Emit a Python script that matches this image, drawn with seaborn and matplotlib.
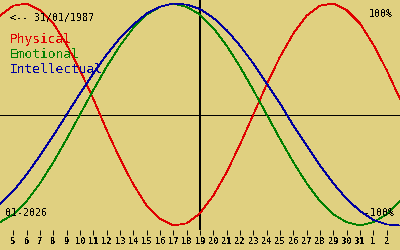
import matplotlib
matplotlib.use("Agg")
import matplotlib.pyplot as plt
import pandas as pd
import seaborn as sns

# ---- data ----
day_labels = ["4", "5", "6", "7", "8", "9", "10", "11", "12", "13", "14", "15", "16", "17",
              "18", "19", "20", "21", "22", "23", "24", "25", "26", "27", "28", "29", "30",
              "31", "1", "2", "3", "4"]
physical = [0.89, 0.98, 1.00, 0.94, 0.82, 0.63, 0.40, 0.14, -0.14, -0.40, -0.63, -0.82,
            -0.94, -1.00, -0.98, -0.89, -0.73, -0.52, -0.27, 0.00, 0.27, 0.52, 0.73, 0.89,
            0.98, 1.00, 0.94, 0.82, 0.63, 0.40, 0.14, -0.14]
emotional = [-0.97, -0.90, -0.78, -0.62, -0.43, -0.22, 0.00, 0.22, 0.43, 0.62, 0.78, 0.90,
             0.97, 1.00, 0.97, 0.90, 0.78, 0.62, 0.43, 0.22, 0.00, -0.22, -0.43, -0.62,
             -0.78, -0.90, -0.97, -1.00, -0.97, -0.90, -0.78, -0.62]
intellectual = [-0.81, -0.69, -0.54, -0.37, -0.19, 0.00, 0.19, 0.37, 0.54, 0.69, 0.81, 0.91,
                0.97, 1.00, 0.99, 0.95, 0.87, 0.76, 0.62, 0.46, 0.28, 0.10, -0.10, -0.28,
                -0.46, -0.62, -0.76, -0.87, -0.95, -0.99, -1.00, -0.97]
series_names = ["Physical", "Emotional", "Intellectual"]
tick_labels = day_labels[1:30]
today_index = 15          # position of "19" in day_labels
birth_text = "<-- 31/01/1987"
month_text = "01-2026"
top_text = "100%"
bottom_text = "-100%"

BG = "#e0d080"
colors = {"Physical": "#e00000", "Emotional": "#008000", "Intellectual": "#0000a0"}

rows = []
for name, vals in zip(series_names, [physical, emotional, intellectual]):
    for i, v in enumerate(vals):
        rows.append({"x": i - 1, "value": v, "series": name})
df = pd.DataFrame(rows)

sns.set_style("white", {"axes.facecolor": BG, "figure.facecolor": BG})
plt.rcParams["font.family"] = ["DejaVu Sans Mono"]
plt.rcParams["text.antialiased"] = False

fig = plt.figure(figsize=(4, 2.5), dpi=100)
ax = fig.add_axes([0, 20 / 250, 1, 230 / 250])
ax.set_facecolor(BG)

ax.axhline(0, color="black", lw=0.55, antialiased=False, zorder=1)
ax.axvline(today_index - 1, color="black", lw=1.2, antialiased=False, zorder=1)

sns.lineplot(data=df, x="x", y="value", hue="series", hue_order=series_names,
             palette=colors, ax=ax, legend=False, linewidth=0.55, estimator=None,
             sort=False, antialiased=False, zorder=3)

ax.set_xlim(-1, 29)
ax.set_ylim(-1.0405, 1.0315)
ax.set_xlabel("")
ax.set_ylabel("")
ax.set_yticks([])
ax.set_xticks(range(0, len(tick_labels)))
ax.set_xticklabels(tick_labels)
ax.tick_params(axis="x", bottom=True, direction="out", length=3.6, width=0.7,
               color="black", labelsize=6.3, pad=1.5, labelcolor="black")
for lab in ax.get_xticklabels():
    lab.set_fontweight("bold")
for s in ax.spines.values():
    s.set_visible(False)
ax.grid(False)


def px(x, y):
    return x / 400, 1 - y / 250


fig.text(*px(10, 21), birth_text, fontsize=7.1, color="black", ha="left", va="baseline")
fig.text(*px(393, 17), top_text, fontsize=7.1, color="black", ha="right", va="baseline")
fig.text(*px(394, 216), bottom_text, fontsize=7.1, color="black", ha="right", va="baseline")
fig.text(*px(5, 216), month_text, fontsize=7.1, color="black", ha="left", va="baseline")
for k, name in enumerate(series_names):
    fig.text(*px(10, 43 + 15 * k), name, fontsize=9.3, color=colors[name],
             ha="left", va="baseline")

fig.savefig("out.png", dpi=100, facecolor=BG)
